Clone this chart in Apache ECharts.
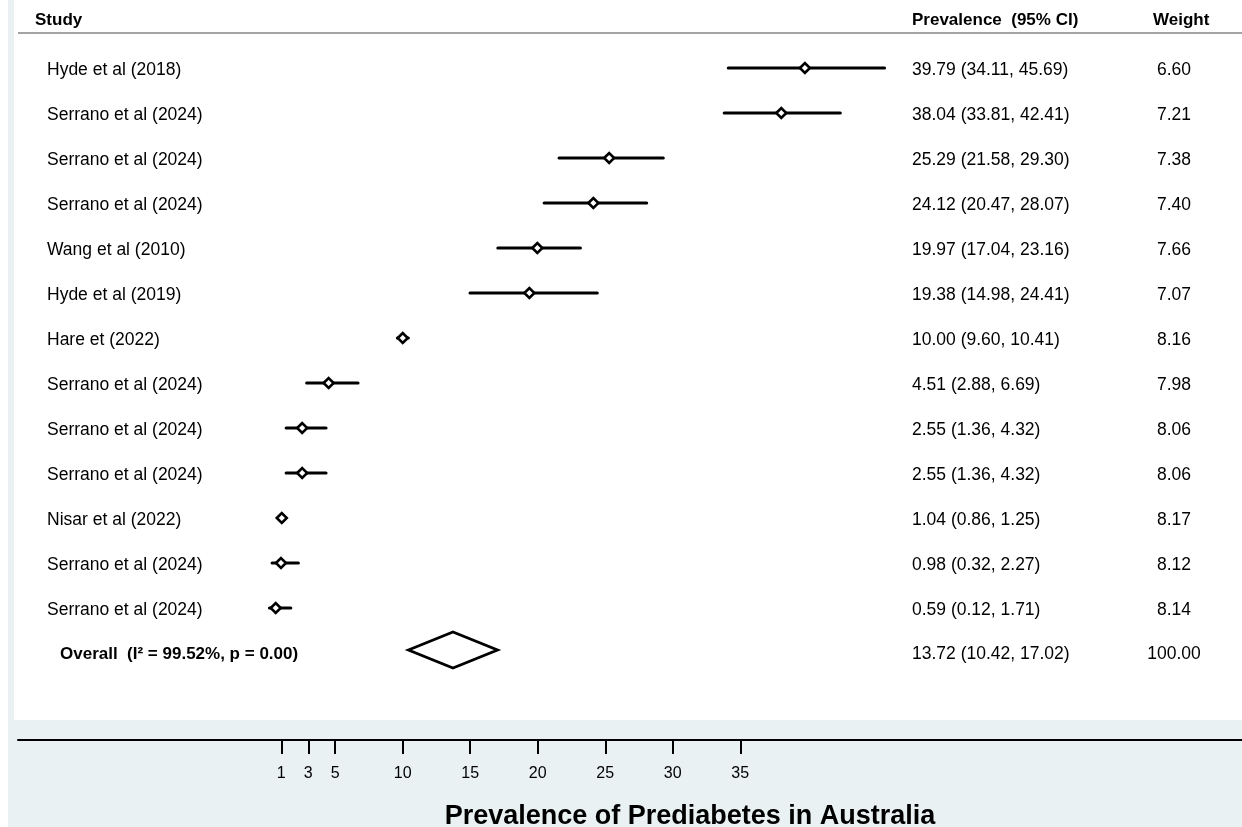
<!DOCTYPE html>
<html><head><meta charset="utf-8">
<script src="https://cdn.jsdelivr.net/npm/echarts@6/dist/echarts.min.js"></script>
<style>html,body{margin:0;padding:0;background:#fff}#chart{width:1242px;height:827px}</style>
</head><body><div id="chart"></div>
<script>
const studies = ['Hyde et al (2018)', 'Serrano et al (2024)', 'Serrano et al (2024)', 'Serrano et al (2024)',
  'Wang et al (2010)', 'Hyde et al (2019)', 'Hare et (2022)', 'Serrano et al (2024)', 'Serrano et al (2024)',
  'Serrano et al (2024)', 'Nisar et al (2022)', 'Serrano et al (2024)', 'Serrano et al (2024)'];
const estimates = [39.79, 38.04, 25.29, 24.12, 19.97, 19.38, 10.00, 4.51, 2.55, 2.55, 1.04, 0.98, 0.59];
const lower = [34.11, 33.81, 21.58, 20.47, 17.04, 14.98, 9.60, 2.88, 1.36, 1.36, 0.86, 0.32, 0.12];
const upper = [45.69, 42.41, 29.30, 28.07, 23.16, 24.41, 10.41, 6.69, 4.32, 4.32, 1.25, 2.27, 1.71];
const weights = [6.60, 7.21, 7.38, 7.40, 7.66, 7.07, 8.16, 7.98, 8.06, 8.06, 8.17, 8.12, 8.14];
const overallLabel = 'Overall  (I\u00b2 = 99.52%, p = 0.00)';
const overallEst = [13.72];
const overallLow = [10.42];
const overallHigh = [17.02];
const overallWeight = [100.00];
const tickValues = [1, 3, 5, 10, 15, 20, 25, 30, 35];
const headers = ['Study', 'Prevalence  (95% CI)', 'Weight'];
const axisTitle = 'Prevalence of Prediabetes in Australia';

const FONT = '"Liberation Sans", Arial, Helvetica, sans-serif';
const BG = '#e9f1f3';
const fmt = v => v.toFixed(2);

const studyData = studies.map((s, i) => [estimates[i], lower[i], upper[i], i]);
const overallRow = studies.length;

const chart = echarts.init(document.getElementById('chart'), null, {renderer: 'canvas'});

function textEl(x, y, text, opts) {
  return Object.assign({
    type: 'text', x: x, y: y,
    style: {text: text, fill: '#000', font: '17.5px ' + FONT, align: 'left', verticalAlign: 'middle'}
  }, opts || {});
}

const option = {
  backgroundColor: '#fff',
  animation: false,
  grid: {left: 18, right: 0, top: 33, bottom: 87, containLabel: false},
  xAxis: {
    type: 'value', min: -18.5, max: -18.5 + 1224 / 13.5,
    axisLine: {show: true, onZero: false, lineStyle: {color: '#000', width: 2}},
    axisTick: {show: true, customValues: tickValues, length: 14, lineStyle: {color: '#000', width: 2}},
    axisLabel: {show: true, customValues: tickValues, margin: 26, color: '#000', fontSize: 16, fontFamily: FONT},
    splitLine: {show: false}
  },
  yAxis: {
    type: 'value', inverse: true, min: -35 / 45, max: -35 / 45 + 707 / 45,
    show: false, splitLine: {show: false}
  },
  graphic: {
    elements: [
      {type: 'rect', z: -10, shape: {x: 8, y: 0, width: 1234, height: 827}, style: {fill: BG}, silent: true},
      {type: 'rect', z: -9, shape: {x: 14, y: 0, width: 1228, height: 720}, style: {fill: '#fff'}, silent: true},
      {type: 'line', z: 1, shape: {x1: 18, y1: 33, x2: 1242, y2: 33}, style: {stroke: '#a3a3a3', lineWidth: 2}},
      textEl(35, 20, headers[0], {style: {text: headers[0], fill: '#000', font: 'bold 17px ' + FONT, align: 'left', verticalAlign: 'middle'}}),
      textEl(912, 20, headers[1], {style: {text: headers[1], fill: '#000', font: 'bold 17px ' + FONT, align: 'left', verticalAlign: 'middle'}}),
      textEl(1153, 20, headers[2], {style: {text: headers[2], fill: '#000', font: 'bold 17px ' + FONT, align: 'left', verticalAlign: 'middle'}}),
      textEl(690, 817, axisTitle, {style: {text: axisTitle, fill: '#000', font: 'bold 27px ' + FONT, align: 'center', verticalAlign: 'middle'}})
    ]
  },
  series: [
    {
      type: 'custom',
      data: studyData,
      clip: false,
      renderItem: function (params, api) {
        const i = params.dataIndex;
        const row = api.value(3);
        const pE = api.coord([api.value(0), row]);
        const pL = api.coord([api.value(1), row]);
        const pH = api.coord([api.value(2), row]);
        const hw = 5, hh = 5;
        return {
          type: 'group',
          children: [
            {type: 'line', shape: {x1: pL[0], y1: pL[1], x2: pH[0], y2: pH[1]},
             style: {stroke: '#000', lineWidth: 3, lineCap: 'round'}},
            {type: 'polygon', shape: {points: [[pE[0] - hw, pE[1]], [pE[0], pE[1] - hh], [pE[0] + hw, pE[1]], [pE[0], pE[1] + hh]]},
             style: {fill: '#fff', stroke: '#000', lineWidth: 2.6}},
            textEl(47, pE[1] + 2, studies[i]),
            textEl(912, pE[1] + 2, fmt(estimates[i]) + ' (' + fmt(lower[i]) + ', ' + fmt(upper[i]) + ')'),
            textEl(1174, pE[1] + 2, fmt(weights[i]), {style: {text: fmt(weights[i]), fill: '#000', font: '17.5px ' + FONT, align: 'center', verticalAlign: 'middle'}})
          ]
        };
      }
    },
    {
      type: 'custom',
      data: [[overallEst[0], overallLow[0], overallHigh[0], overallRow]],
      clip: false,
      renderItem: function (params, api) {
        const row = api.value(3);
        const pE = api.coord([api.value(0), row]);
        const pL = api.coord([api.value(1), row]);
        const pH = api.coord([api.value(2), row]);
        const cy = pE[1] - 3, hh = 18;
        const wTxt = fmt(overallWeight[0]);
        return {
          type: 'group',
          children: [
            {type: 'polygon', shape: {points: [[pL[0], cy], [pE[0], cy - hh], [pH[0], cy], [pE[0], cy + hh]]},
             style: {fill: '#fff', stroke: '#000', lineWidth: 2.8}},
            textEl(60, pE[1] + 1, overallLabel, {style: {text: overallLabel, fill: '#000', font: 'bold 17px ' + FONT, align: 'left', verticalAlign: 'middle'}}),
            textEl(912, pE[1] + 1, fmt(overallEst[0]) + ' (' + fmt(overallLow[0]) + ', ' + fmt(overallHigh[0]) + ')'),
            textEl(1174, pE[1] + 1, wTxt, {style: {text: wTxt, fill: '#000', font: '17.5px ' + FONT, align: 'center', verticalAlign: 'middle'}})
          ]
        };
      }
    }
  ]
};
chart.setOption(option);
</script></body></html>
